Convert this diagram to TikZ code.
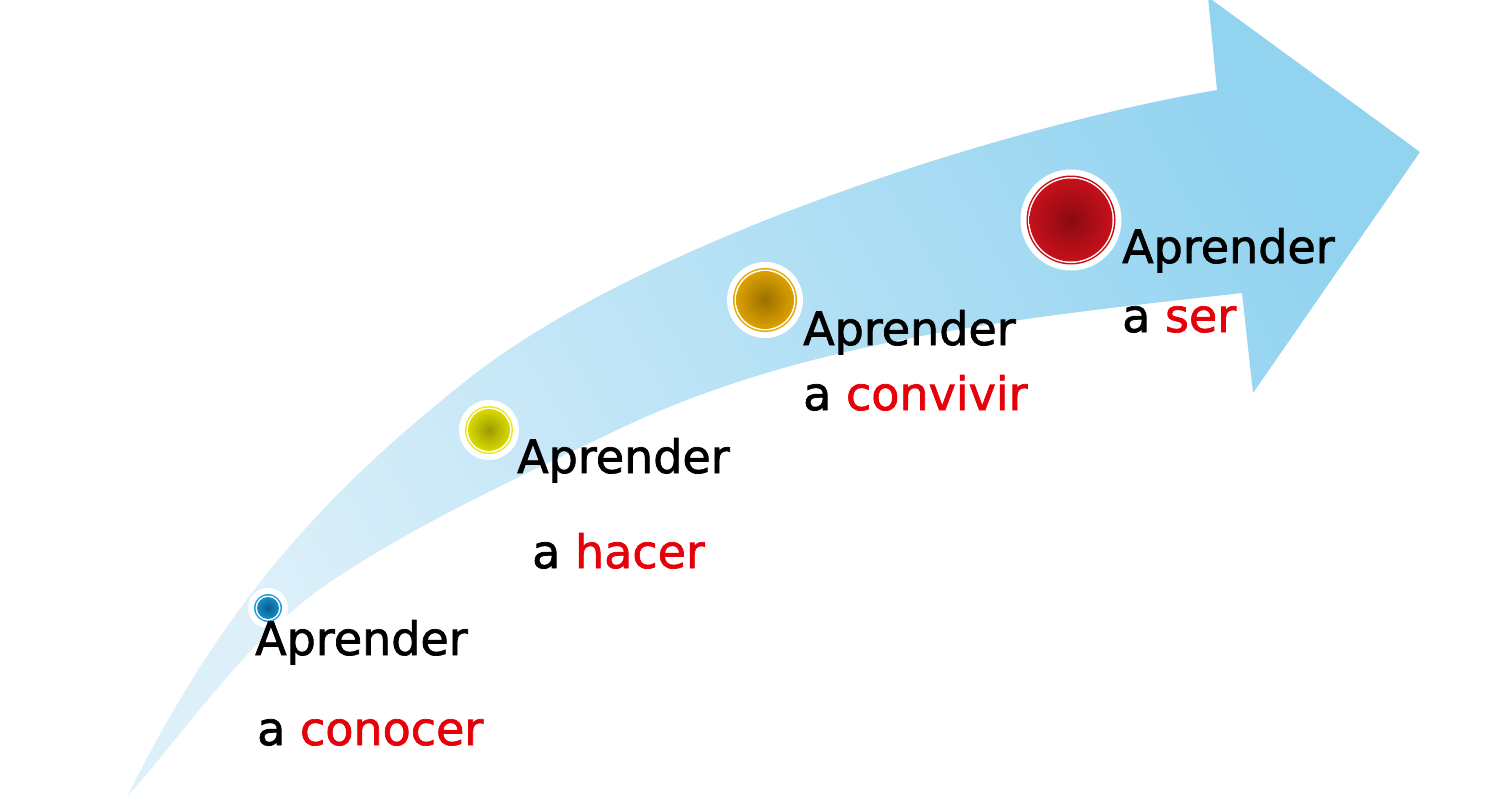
\documentclass[tikz,border=0pt]{standalone}
\usepackage{fontspec}
\setmainfont{DejaVu Sans}
\newfontfamily\wordfont{DejaVu Sans}[FakeBold=1.6]
\definecolor{arrowlight}{HTML}{DDF0FA}
\definecolor{arrowmid}{HTML}{BDE4F6}
\definecolor{arrowdark}{HTML}{92D3F0}
\definecolor{wordred}{RGB}{230,0,10}
\definecolor{blueA}{HTML}{0A5A8A}\definecolor{blueB}{HTML}{1A98D0}\definecolor{blueR}{HTML}{23A3D9}
\definecolor{yelA}{HTML}{9A9A00}\definecolor{yelB}{HTML}{E6E600}\definecolor{yelR}{HTML}{E8E820}
\definecolor{oraA}{HTML}{9C7000}\definecolor{oraB}{HTML}{E8AA00}\definecolor{oraR}{HTML}{E2AA00}
\definecolor{redA}{HTML}{8A0A10}\definecolor{redB}{HTML}{D2121E}\definecolor{redR}{HTML}{C81018}
\pgfdeclareradialshading{blueshade}{\pgfpoint{0bp}{0bp}}{color(0bp)=(blueA); color(30bp)=(blueB); color(50bp)=(blueB)}
\pgfdeclareradialshading{yelshade}{\pgfpoint{0bp}{0bp}}{color(0bp)=(yelA); color(30bp)=(yelB); color(50bp)=(yelB)}
\pgfdeclareradialshading{orashade}{\pgfpoint{0bp}{0bp}}{color(0bp)=(oraA); color(30bp)=(oraB); color(50bp)=(oraB)}
\pgfdeclareradialshading{redshade}{\pgfpoint{0bp}{0bp}}{color(0bp)=(redA); color(30bp)=(redB); color(50bp)=(redB)}
\newcommand\bead[4]{%
  \fill[white] (#1) circle ({#2+6});
  \fill[#3] (#1) circle (#2);
  \fill[white] (#1) circle ({#2-1.5});
  \shade[shading=#4] (#1) circle ({#2-3});
}
\begin{document}
\begin{tikzpicture}[x=1pt,y=-1pt,
  word/.style={font=\wordfont\fontsize{46}{55}\selectfont, anchor=base west, inner sep=0pt, text=black}]
\useasboundingbox (0,0) rectangle (1502,811);
% arrow
\shade[top color=arrowdark, middle color=arrowmid, bottom color=arrowlight, shading angle=-60]
  (127,797) .. controls (225,600) and (326,492) .. (467,380)
  .. controls (639,243) and (1000,127) .. (1217,90)
  -- (1208,-3) -- (1420,152) -- (1253,393) -- (1242,293)
  .. controls (1030,317) and (809,338) .. (617,430)
  .. controls (521,476) and (422,521) .. (333,580)
  .. controls (250,635) and (193,722) .. (127,797)
  -- cycle;
% beads
\coordinate (b1) at (268,608);
\coordinate (b2) at (489,430);
\coordinate (b3) at (765,300);
\coordinate (b4) at (1071,220);
\bead{b1}{14}{blueR}{blueshade}
\bead{b2}{24}{yelR}{yelshade}
\bead{b3}{32}{oraR}{orashade}
\bead{b4}{44.5}{redR}{redshade}
% texts
\node[word] (t1a) at (255,655) {Aprender};
\node[word] (t1b) at (257,745) {a \textcolor{wordred}{conocer}};
\node[word] (t2a) at (517,473) {Aprender};
\node[word] (t2b) at (532,568) {a \textcolor{wordred}{hacer}};
\node[word] (t3a) at (803,345) {Aprender};
\node[word] (t3b) at (803,410) {a \textcolor{wordred}{convivir}};
\node[word] (t4a) at (1122,263) {Aprender};
\node[word] (t4b) at (1122,332) {a \textcolor{wordred}{ser}};
\end{tikzpicture}
\end{document}
